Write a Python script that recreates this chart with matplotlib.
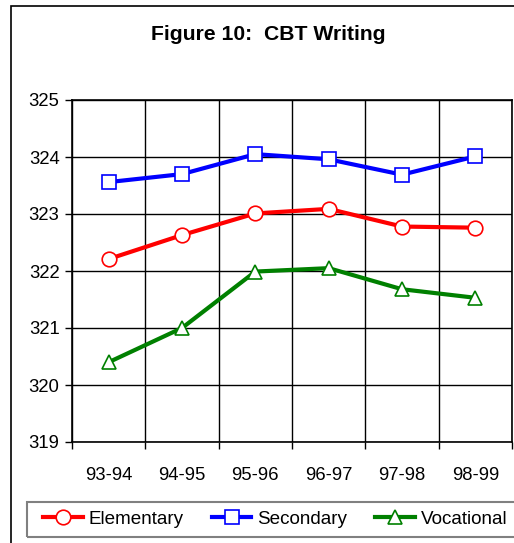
import matplotlib.pyplot as plt
from matplotlib.patches import Rectangle
import numpy as np

plt.rcParams['font.family'] = ['Liberation Sans', 'DejaVu Sans']

years = ['93-94', '94-95', '95-96', '96-97', '97-98', '98-99']
elementary = [322.21, 322.63, 323.01, 323.09, 322.78, 322.76]
secondary = [323.56, 323.70, 324.05, 323.96, 323.69, 324.01]
vocational = [320.40, 321.00, 321.99, 322.05, 321.68, 321.53]

W, H = 514, 543
fig = plt.figure(figsize=(W / 100, H / 100), dpi=100)

# outer frame (only left/top visible in the reference)
fig.add_artist(Rectangle((11 / W, -0.1), 1.2, 1 - 6 / H + 0.1, transform=fig.transFigure,
                         fill=False, edgecolor='black', linewidth=1.2))

ax = fig.add_axes([72 / W, 1 - 442 / H, 440 / W, 342 / H])
x = np.arange(len(years))

series = [
    ('Elementary', elementary, 'red', 'o', 10.5),
    ('Secondary', secondary, 'blue', 's', 10),
    ('Vocational', vocational, 'green', '^', 10.5),
]
handles = []
for name, vals, color, marker, ms in series:
    h, = ax.plot(x, vals, color=color, lw=3, marker=marker, ms=ms,
                 markerfacecolor='white', markeredgecolor=color, markeredgewidth=1.2,
                 label=name, zorder=3)
    handles.append(h)

ax.set_xlim(-0.5, 5.5)
ax.set_ylim(319, 325)
ax.set_yticks(np.arange(319, 326, 1))
ax.set_xticks(x)
ax.set_xticklabels(years)
ax.set_xticks(np.arange(-0.5, 6, 1), minor=True)
ax.tick_params(axis='x', which='major', length=0, pad=18, labelsize=13.3)
ax.tick_params(axis='x', which='minor', length=5, width=1, direction='out')
ax.tick_params(axis='y', length=5, width=1, direction='out', pad=4, labelsize=13.3)
ax.grid(True, axis='y', which='major', color='black', lw=1)
ax.grid(True, axis='x', which='minor', color='black', lw=1)
for s in ax.spines.values():
    s.set_linewidth(1.2)

fig.text(268 / W, 1 - 35 / H, 'Figure 10:  CBT Writing', ha='center', va='center',
         fontsize=15.2, fontweight='bold')

# legend box drawn separately so its width matches the reference
fig.add_artist(Rectangle((27 / W, 1 - 537 / H), (W - 27) / W + 0.01, 35 / H,
                         transform=fig.transFigure, fill=False, edgecolor='gray', linewidth=1.5))
leg = fig.legend(handles=handles, loc='center left', ncol=3,
                 bbox_to_anchor=(43 / W, 1 - 519 / H),
                 fontsize=13.6, handlelength=2.1, handletextpad=0.3, columnspacing=1.5,
                 borderpad=0, borderaxespad=0, frameon=False)

fig.savefig('out.png', dpi=100)
